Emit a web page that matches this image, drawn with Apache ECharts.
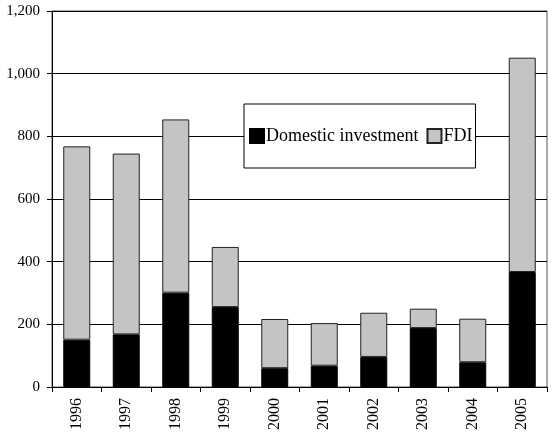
<!DOCTYPE html>
<html>
<head>
<meta charset="utf-8">
<script src="https://cdn.jsdelivr.net/npm/echarts@6/dist/echarts.min.js"></script>
<style>
  html, body { margin: 0; padding: 0; background: #fff; }
  #chart { width: 555px; height: 445px; }
</style>
</head>
<body>
<div id="chart"></div>
<script>
const years = ['1996', '1997', '1998', '1999', '2000', '2001', '2002', '2003', '2004', '2005']
const domestic = [151, 168, 301, 255, 60, 68, 96, 188, 79, 367]
const fdi = [617, 577, 553, 192, 157, 136, 141, 62, 139, 684]

const font = '"Liberation Serif", "Times New Roman", serif'

const chart = echarts.init(document.getElementById('chart'), null, {renderer: 'canvas'})

const option = {
    animation: false,
    textStyle: {fontFamily: font, color: '#000'},
    grid: {
        left: 52,
        right: 8,
        top: 11,
        bottom: 58,
        show: true,
        borderColor: '#555',
        borderWidth: 1
    },
    legend: {
        left: 244,
        top: 104,
        data: ['Domestic investment', 'FDI'],
        icon: 'rect',
        itemWidth: 14,
        itemHeight: 14,
        itemGap: 8,
        padding: [23, 3, 23, 5],
        backgroundColor: '#fff',
        borderColor: '#000',
        borderWidth: 1,
        textStyle: {fontFamily: font, fontSize: 18, color: '#000', padding: [0, 0, 0, -3]}
    },
    xAxis: {
        type: 'category',
        data: years,
        axisLine: {lineStyle: {color: '#000'}},
        axisTick: {show: true, lineStyle: {color: '#000'}, length: 5},
        axisLabel: {
            rotate: 90,
            margin: 11,
            fontFamily: font,
            fontSize: 16,
            color: '#000'
        }
    },
    yAxis: {
        type: 'value',
        min: 0,
        max: 1200,
        interval: 200,
        axisLine: {show: true, lineStyle: {color: '#000'}},
        axisTick: {show: true, lineStyle: {color: '#000'}, length: 5},
        axisLabel: {
            margin: 12,
            fontFamily: font,
            fontSize: 15,
            color: '#000',
            formatter: v => v.toLocaleString('en-US')
        },
        splitLine: {lineStyle: {color: '#000', width: 1}}
    },
    series: [
        {
            name: 'Domestic investment',
            type: 'bar',
            stack: 'total',
            barWidth: 27,
            data: domestic,
            itemStyle: {color: '#000', borderColor: '#000', borderWidth: 1}
        },
        {
            name: 'FDI',
            type: 'bar',
            stack: 'total',
            barWidth: 27,
            data: fdi,
            itemStyle: {color: '#c4c4c4', borderColor: '#222', borderWidth: 1}
        }
    ]
}

chart.setOption(option)
</script>
</body>
</html>
